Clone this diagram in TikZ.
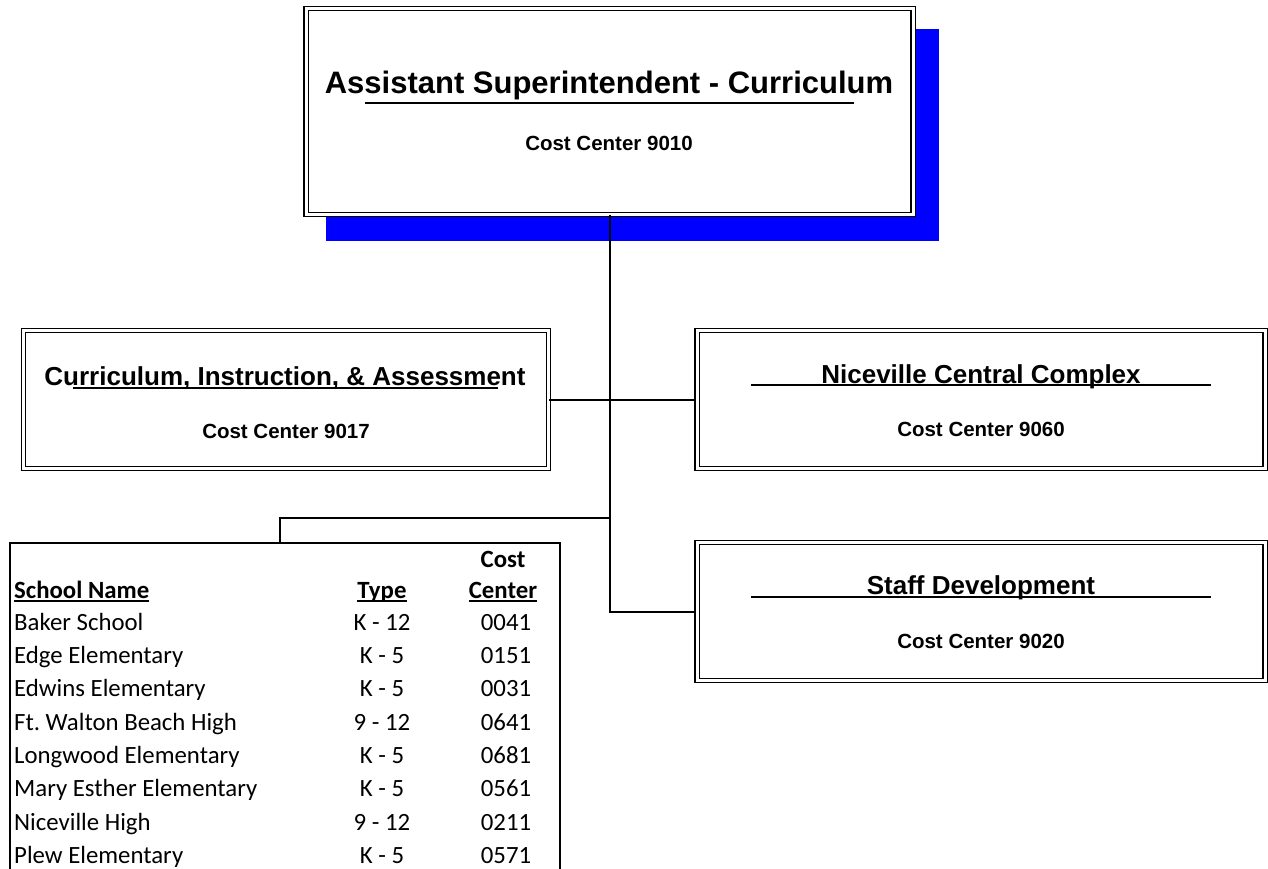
\documentclass[tikz,border=0pt]{standalone}
\usepackage{fontspec}
\setmainfont{Liberation Sans}
\newfontfamily\schoolfont{Carlito}
\usepackage{tikz}
\usetikzlibrary{positioning,calc}
\frenchspacing

\begin{document}
\begin{tikzpicture}[x=1pt,y=-1pt,
  unitbox/.style={draw, double, double distance=3pt, line width=1.3pt, fill=white, inner sep=0pt},
  boxtitle/.style={anchor=base, inner sep=0pt, font=\fontsize{26}{26}\selectfont\bfseries},
  boxcc/.style={anchor=base, inner sep=0pt, font=\fontsize{20.5}{20.5}\selectfont\bfseries},
  cell/.style={anchor=base, inner sep=0pt, font=\schoolfont\fontsize{24.8}{24.8}\selectfont},
  namecell/.style={cell, anchor=base west},
  headcell/.style={cell, font=\schoolfont\fontsize{24.8}{24.8}\selectfont\bfseries},
  link/.style={line width=2pt}]
\useasboundingbox (0,0) rectangle (1268,868);
\clip (0,0) rectangle (1268,868);

% top box with its shadow
\fill[blue] (326,29) rectangle (939,241);
\node[unitbox, minimum width=607, minimum height=206] (top) at (609.5,111.5) {};
\node[boxtitle, font=\fontsize{31}{31}\selectfont\bfseries] (toptitle) at (609,93) {Assistant Superintendent - Curriculum};
\draw[line width=1.3pt] (365,103) -- (854,103);
\node[boxcc] (topcc) at (609,150) {Cost Center 9010};

% second level
\node[unitbox, minimum width=525, minimum height=138] (curr) at (286,399.5) {};
\node[boxtitle] (currtitle) at (285,385) {Curriculum, Instruction, \& Assessment};
\draw[line width=1.3pt] (73,388) -- (498,388);
\node[boxcc] (currcc) at (286,438) {Cost Center 9017};

\node[unitbox, minimum width=568, minimum height=138] (nice) at (981,399.5) {};
\node[boxtitle] (nicetitle) at (981,383) {Niceville Central Complex};
\draw[line width=1.3pt] (751,385) -- (1211,385);
\node[boxcc] (nicecc) at (981,436) {Cost Center 9060};

\node[unitbox, minimum width=568, minimum height=138] (staff) at (981,611.5) {};
\node[boxtitle] (stafftitle) at (981,594) {Staff Development};
\draw[line width=1.3pt] (751,597) -- (1211,597);
\node[boxcc] (staffcc) at (981,648) {Cost Center 9020};

% schools table
\node[draw, line width=2pt, inner sep=0pt, minimum width=550, minimum height=400, anchor=north west] (schools) at (9,542) {};
\coordinate (schtop) at (280,542);
\node[headcell] (hcost) at (503,567) {Cost};
\node[headcell, anchor=base west] (hname) at (14,598) {School Name};
\node[headcell] (htype) at (382,598) {Type};
\node[headcell] (hcenter) at (503,598) {Center};
\draw[line width=1.8pt] ($(hname.base west)+(0,3)$) -- ($(hname.base east)+(0,3)$);
\draw[line width=1.8pt] ($(htype.base west)+(0,3)$) -- ($(htype.base east)+(0,3)$);
\draw[line width=1.8pt] ($(hcenter.base west)+(0,3)$) -- ($(hcenter.base east)+(0,3)$);

\node[namecell] (n1) at (14,630) {Baker School}; \node[cell] (t1) at (382,630) {K - 12}; \node[cell] (c1) at (506,630) {0041};
\node[namecell] (n2) at (14,663.3) {Edge Elementary}; \node[cell] (t2) at (382,663.3) {K - 5}; \node[cell] (c2) at (506,663.3) {0151};
\node[namecell] (n3) at (14,696.6) {Edwins Elementary}; \node[cell] (t3) at (382,696.6) {K - 5}; \node[cell] (c3) at (506,696.6) {0031};
\node[namecell] (n4) at (14,730) {Ft. Walton Beach High}; \node[cell] (t4) at (382,730) {9 - 12}; \node[cell] (c4) at (506,730) {0641};
\node[namecell] (n5) at (14,763.3) {Longwood Elementary}; \node[cell] (t5) at (382,763.3) {K - 5}; \node[cell] (c5) at (506,763.3) {0681};
\node[namecell] (n6) at (14,796.6) {Mary Esther Elementary}; \node[cell] (t6) at (382,796.6) {K - 5}; \node[cell] (c6) at (506,796.6) {0561};
\node[namecell] (n7) at (14,830) {Niceville High}; \node[cell] (t7) at (382,830) {9 - 12}; \node[cell] (c7) at (506,830) {0211};
\node[namecell] (n8) at (14,863.3) {Plew Elementary}; \node[cell] (t8) at (382,863.3) {K - 5}; \node[cell] (c8) at (506,863.3) {0571};

% connectors
\coordinate (jstaff) at (top.south |- staff.west);
\coordinate (jbranch) at (top.south |- schtop) ;
\coordinate (jbranch) at ($(jbranch)+(0,-24)$);
\draw[link] (top.south) -- (jstaff) -- (staff.west);
\draw[link] (curr.east) -- (nice.west);
\draw[link] (jbranch) -| (schtop);
\end{tikzpicture}
\end{document}
